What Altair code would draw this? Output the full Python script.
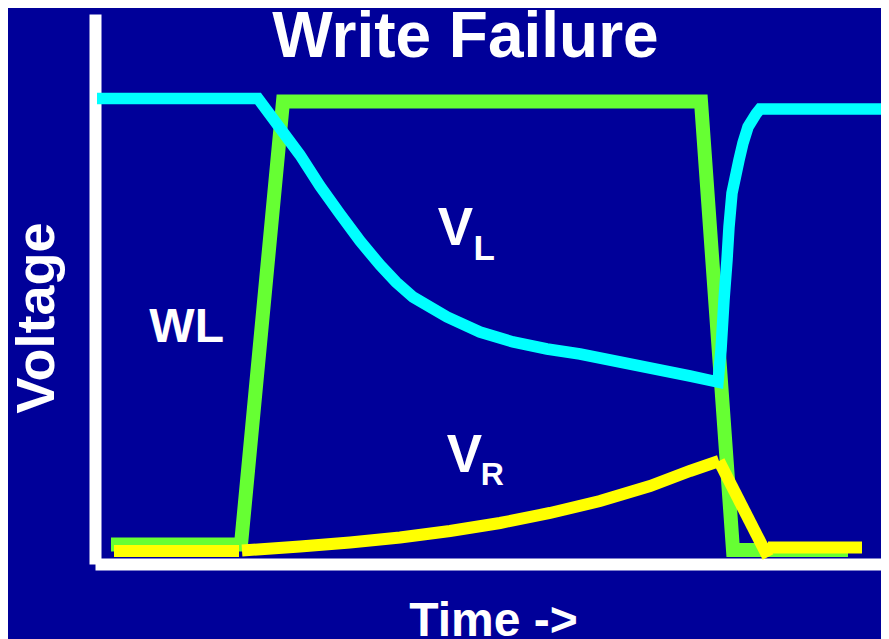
import altair as alt
import pandas as pd

BG = "#000099"
FONT = "Liberation Sans"
GREEN = "#66FF33"
CYAN = "#00FFFF"
YELLOW = "#FFFF00"

# WL (word line) - green
wl_t = [2.0, 18.25, 23.5, 75.75, 79.75, 94.125]
wl_v = [0.039, 0.039, 0.925, 0.925, 0.028, 0.028]

# VL - cyan
vl_t = [0.25, 20.375, 25.625, 28.125, 30.625, 33.125, 35.625, 37.625, 39.75,
        44.0, 48.125, 52.25, 56.5, 60.625, 65.625, 70.625, 74.375, 77.875,
        78.25, 78.625, 79.0, 79.25, 79.625, 80.5, 81.0, 81.625, 82.625,
        83.125, 98.5]
vl_v = [0.931, 0.931, 0.818, 0.756, 0.700, 0.646, 0.598, 0.564, 0.534,
        0.494, 0.464, 0.444, 0.430, 0.420, 0.404, 0.388, 0.376, 0.364,
        0.428, 0.528, 0.608, 0.674, 0.742, 0.808, 0.842, 0.874, 0.900,
        0.910, 0.910]

# VR - yellow (four strokes)
vr_seg = [1, 1,
          2, 2, 2, 2, 2, 2, 2, 2, 2, 2, 2,
          3, 3,
          4, 4]
vr_t = [2.375, 18.0,
        18.375, 25.625, 31.875, 38.125, 44.375, 50.625, 56.875, 63.125, 69.375, 74.375, 78.0,
        78.0, 84.125,
        84.125, 95.875]
vr_v = [0.026, 0.026,
        0.027, 0.035, 0.043, 0.053, 0.066, 0.082, 0.102, 0.126, 0.156, 0.186, 0.206,
        0.206, 0.014,
        0.033, 0.033]

# title and labels
title_text = ["Write Failure"]
title_t = [46.31]
title_v = [1.014]
title_size = [64]

main_text = ["WL", "V", "V"]
main_t = [11.46, 45.06, 46.19]
main_v = [0.444, 0.638, 0.184]
main_size = [48, 53, 53]

sub_text = ["L", "R"]
sub_t = [47.3, 48.21]
sub_v = [0.608, 0.158]
sub_size = [35, 32]

wl = pd.DataFrame({"t": wl_t, "v": wl_v, "i": range(len(wl_t)), "seg": 1})
vl = pd.DataFrame({"t": vl_t, "v": vl_v, "i": range(len(vl_t)), "seg": 1})
vr = pd.DataFrame({"t": vr_t, "v": vr_v, "i": range(len(vr_t)), "seg": vr_seg})
lab_title = pd.DataFrame({"t": title_t, "v": title_v, "txt": title_text, "s": title_size})
lab_main = pd.DataFrame({"t": main_t, "v": main_v, "txt": main_text, "s": main_size})
lab_sub = pd.DataFrame({"t": sub_t, "v": sub_v, "txt": sub_text, "s": sub_size})

x = alt.X("t:Q",
          scale=alt.Scale(domain=[0, 98.25], nice=False, zero=False),
          axis=alt.Axis(title="Time ->", titleX=398, titleY=71,
                        titleAlign="center", titleBaseline="alphabetic",
                        titleFontSize=48, titleAngle=0))
y = alt.Y("v:Q",
          scale=alt.Scale(domain=[0, 1.1], nice=False, zero=False),
          axis=alt.Axis(title="Voltage", titleX=-42, titleY=303.5,
                        titleAlign="center", titleBaseline="alphabetic",
                        titleFontSize=54, titleAngle=270))


def line(df, color, width):
    return alt.Chart(df).mark_line(
        color=color, strokeWidth=width, strokeJoin="miter",
        strokeCap="butt", clip=False
    ).encode(x=x, y=y, detail="seg:N", order="i:Q")


def text(df, align):
    return alt.Chart(df).mark_text(
        color="white", font=FONT, fontWeight="bold", align=align,
        baseline="alphabetic", clip=False
    ).encode(x=x, y=y, text="txt:N",
             size=alt.Size("s:Q", scale=None, legend=None))


green = line(wl, GREEN, 14)
cyan = line(vl, CYAN, 11.5)
yellow = line(vr, YELLOW, 12)

chart = alt.layer(
    green, cyan, yellow,
    text(lab_title, "center"), text(lab_main, "center"), text(lab_sub, "left")
).properties(
    width=786,
    height=550,
    autosize="none",
    padding={"left": 87, "top": 6, "right": 0, "bottom": 75},
    background=BG,
).configure_view(strokeWidth=0).configure_axis(
    domainColor="white", domainWidth=12, ticks=False, labels=False,
    grid=False, titleColor="white", titleFont=FONT, titleFontWeight="bold"
)

chart.save("out.html", embed_options={"renderer": "svg", "actions": False})
